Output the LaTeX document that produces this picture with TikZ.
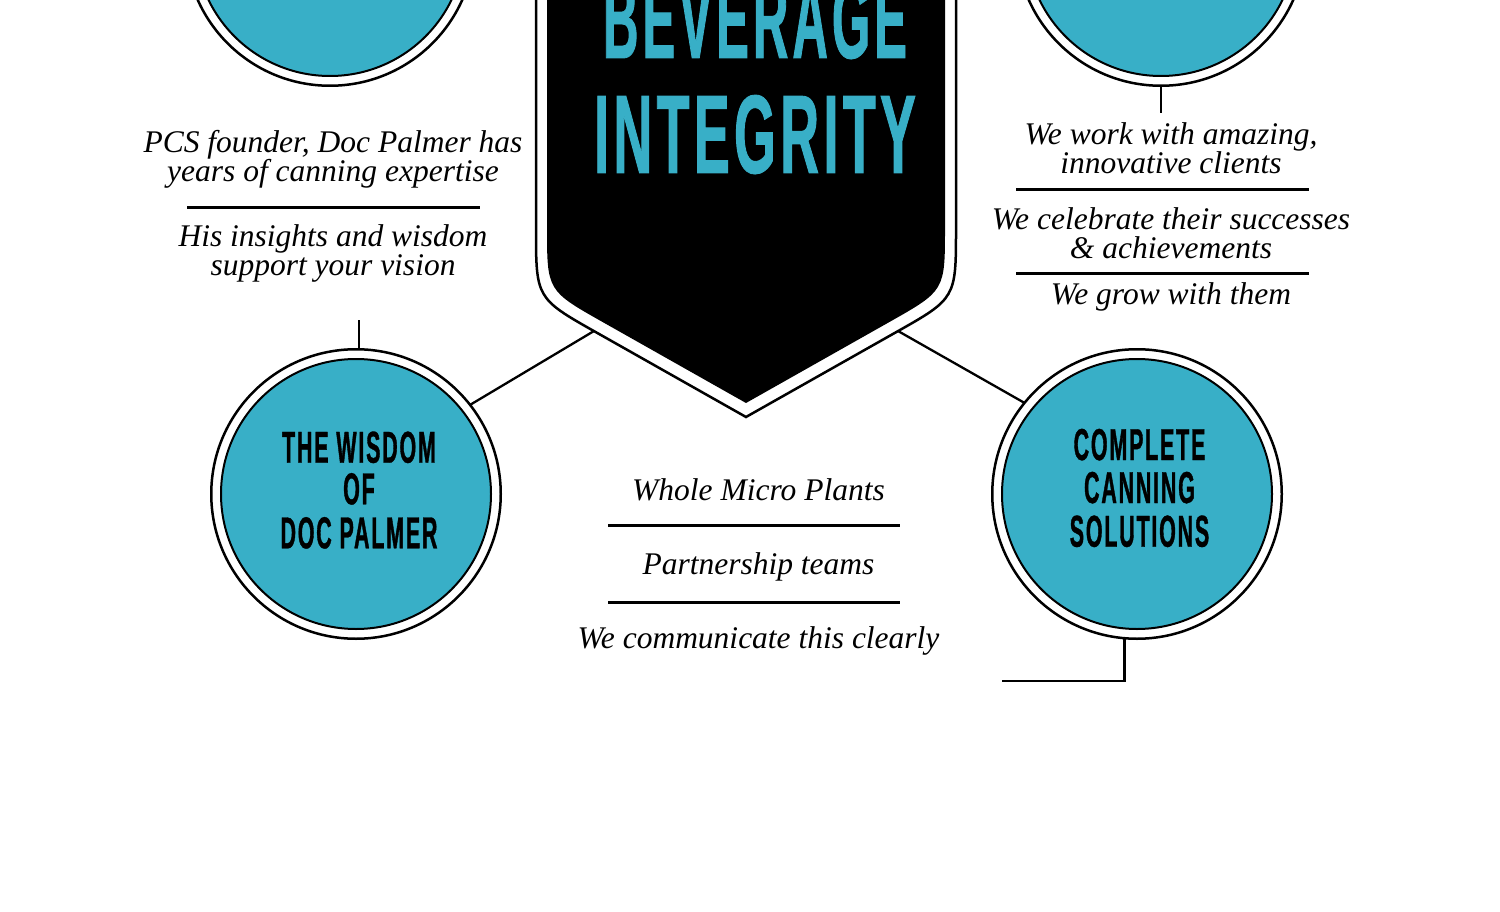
\documentclass[tikz,border=0pt]{standalone}
\usepackage{fontspec}
\setmainfont{Liberation Serif}
\newfontfamily\condfont[FakeStretch=0.48,LetterSpace=4,FakeBold=0.8]{Liberation Sans Bold}
\usepackage{graphicx}
\definecolor{pcsteal}{RGB}{56,175,199}
\begin{document}
\begin{tikzpicture}[x=1pt,y=-1pt,
  every node/.style={inner sep=0pt, outer sep=0pt},
  ringshape/.style={circle, draw=black, line width=2.5pt, fill=white, minimum size=289.5pt},
  discshape/.style={circle, draw=black, line width=2pt, fill=pcsteal, minimum size=270pt},
  connector/.style={draw=black, line width=2.3pt},
  rulestyle/.style={draw=black, line width=2.5pt},
  notetext/.style={font=\fontsize{31.5}{29}\selectfont\itshape, anchor=base},
  circtext/.style={font=\condfont\fontsize{44.7}{43}\selectfont, anchor=base},
  bigtitle/.style={font=\condfont\fontsize{111.7}{115}\selectfont, text=pcsteal, anchor=base}]

\fill[white] (0,0) rectangle (1500,912);
\useasboundingbox (0,0) rectangle (1500,912);
\clip (0,0) rectangle (1500,912);

% free ends of connectors
\coordinate (shL) at (594,331);
\coordinate (shR) at (898,331);
\coordinate (wTop) at (359,320);
\coordinate (trEnd) at (1161,113);
\coordinate (ccEnd) at (1002,681);

% circles
\node[ringshape] (topL) at (330,-59) {};
\node[discshape] (topLin) at (330,-59) {};
\node[ringshape] (topR) at (1161,-59) {};
\node[discshape] (topRin) at (1161,-59) {};
\node[ringshape] (wisdom) at (356,494) {};
\node[discshape] (wisdomIn) at (356,494) {};
\node[ringshape] (comp) at (1137,494) {};
\node[discshape] (compIn) at (1137,494) {};

% connectors
\draw[connector] (shL) -- (wisdom.38.6);
\draw[connector] (shR) -- (comp.141.2);
\draw[connector] (wTop) -- (wTop |- wisdom.north);
\draw[connector] (topR.south) -- (trEnd);
\draw[connector] (comp.265.6) |- (ccEnd);

% shield
\draw[line width=2.5pt, fill=white]
  (536,-30) -- (536,228.4) .. controls (536,298.4) .. (597,332.8)
  -- (746,417) -- (895,332.8) .. controls (956,298.4) .. (956,228.4)
  -- (956,-30) -- cycle;
\fill[black]
  (547,-30) -- (547,227) .. controls (547,290.6) .. (602.4,321.9)
  -- (746,403) -- (889.6,321.9) .. controls (945,290.6) .. (945,227)
  -- (945,-30) -- cycle;

\node[bigtitle] (bev) at (755,58) {\scalebox{0.915}[1]{BEVERAGE}};
\node[bigtitle] (integ) at (755,173) {INTEGRITY};

% circle texts
\node[circtext] (w1) at (359,462.7) {THE WISDOM};
\node[circtext] (w2) at (359,504.3) {OF};
\node[circtext] (w3) at (359,548.3) {DOC PALMER};
\node[circtext] (c1) at (1139.5,460) {COMPLETE};
\node[circtext] (c2) at (1139.5,503) {CANNING};
\node[circtext] (c3) at (1139.5,546.7) {SOLUTIONS};

% left notes
\node[notetext] (l1) at (333,152.7) {PCS founder, Doc Palmer has};
\node[notetext] (l2) at (333,181.7) {years of canning expertise};
\coordinate (lr1a) at (187,207.7);
\coordinate (lr1b) at (480,207.7);
\draw[rulestyle] (lr1a) -- (lr1b);
\node[notetext] (l3) at (333,246.7) {His insights and wisdom};
\node[notetext] (l4) at (333,275.7) {support your vision};

% right notes
\node[notetext] (r1) at (1171,144.3) {We work with amazing,};
\node[notetext] (r2) at (1171,173.3) {innovative clients};
\coordinate (rr1a) at (1016,189.3);
\coordinate (rr1b) at (1309,189.3);
\draw[rulestyle] (rr1a) -- (rr1b);
\node[notetext] (r3) at (1171,230) {We celebrate their successes};
\node[notetext] (r4) at (1171,258.3) {\& achievements};
\coordinate (rr2a) at (1016,273.3);
\coordinate (rr2b) at (1309,273.3);
\draw[rulestyle] (rr2a) -- (rr2b);
\node[notetext] (r5) at (1171,305) {We grow with them};

% middle notes
\node[notetext] (m1) at (758.5,500) {Whole Micro Plants};
\coordinate (mr1a) at (608,525.7);
\coordinate (mr1b) at (900,525.7);
\draw[rulestyle] (mr1a) -- (mr1b);
\node[notetext] (m2) at (758.5,574.3) {Partnership teams};
\coordinate (mr2a) at (608,602.7);
\coordinate (mr2b) at (900,602.7);
\draw[rulestyle] (mr2a) -- (mr2b);
\node[notetext] (m3) at (758.5,648.3) {We communicate this clearly};
\end{tikzpicture}
\end{document}
